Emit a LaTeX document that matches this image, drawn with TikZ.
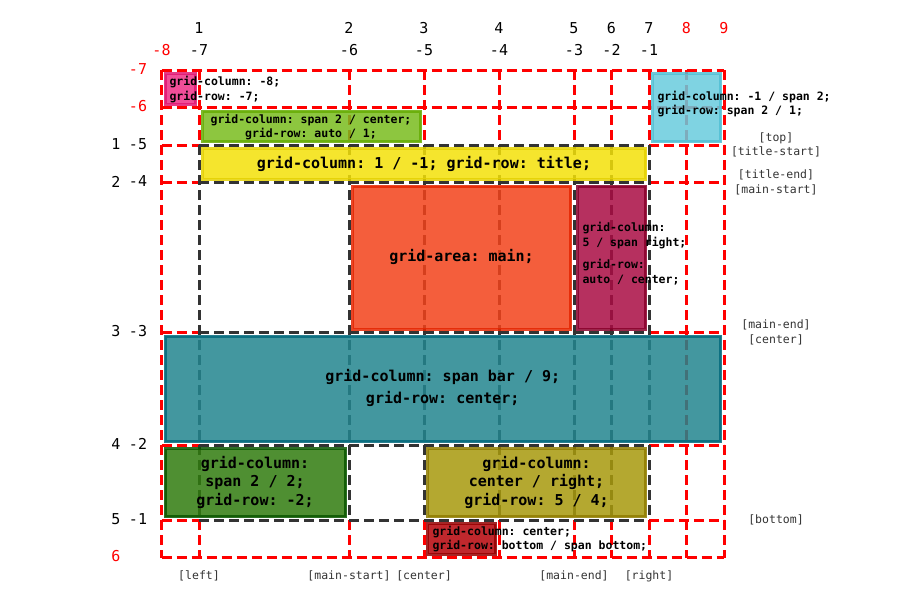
\documentclass[tikz,border=0pt]{standalone}
\usepackage{fontspec}
\setmainfont{DejaVu Sans Mono}
\usetikzlibrary{positioning}
\definecolor{pinkfill}{HTML}{EE2F86}
\definecolor{pinkline}{HTML}{E01773}
\definecolor{limefill}{HTML}{79BC1D}
\definecolor{limeline}{HTML}{66AC04}
\definecolor{cyanfill}{HTML}{68CBDD}
\definecolor{cyanline}{HTML}{52C0D4}
\definecolor{yellowfill}{HTML}{F3E008}
\definecolor{yellowline}{HTML}{E4D100}
\definecolor{mainfill}{HTML}{F2421A}
\definecolor{mainline}{HTML}{E42500}
\definecolor{rightfill}{HTML}{A90C43}
\definecolor{rightline}{HTML}{88002A}
\definecolor{barfill}{HTML}{22858E}
\definecolor{barline}{HTML}{046A7C}
\definecolor{leftfill}{HTML}{307B0E}
\definecolor{leftline}{HTML}{095600}
\definecolor{olivefill}{HTML}{A7990C}
\definecolor{oliveline}{HTML}{8F7C00}
\definecolor{bottomfill}{HTML}{B50208}
\definecolor{bottomline}{HTML}{950000}
\tikzset{
    implicit/.style={draw=red, line width=3pt, dash pattern=on 10pt off 5pt},
    explicit/.style={draw=black!80, line width=3pt, dash pattern=on 10pt off 5pt},
    area/.style={opacity=0.85, line width=3pt},
    big/.style={font=\fontsize{15}{18.5}\selectfont\bfseries, align=center},
    small/.style={font=\fontsize{11.5}{14.5}\selectfont\bfseries},
    num/.style={font=\fontsize{15}{18}\selectfont},
    linename/.style={font=\fontsize{11.5}{14.5}\selectfont, text=black!80}
}

\begin{document}
\frenchspacing
\begin{tikzpicture}[x=1pt, y=-1pt]
    \useasboundingbox (0,0) rectangle (915,598);

    % implicit grid
    \draw[implicit] (161.5,70) -- (161.5,557.5) (686.5,70) -- (686.5,557.5) (724,70) -- (724,557.5);
    \draw[implicit] (161.5,70) -- (724,70) (161.5,107.5) -- (724,107.5) (161.5,557.5) -- (724,557.5);
    \foreach \x in {199,349,424,499,574,611.5,649}
        \draw[implicit] (\x,70) -- (\x,145) (\x,520) -- (\x,557.5);
    \foreach \y in {145,182.5,332.5,445,520}
        \draw[implicit] (161.5,\y) -- (199,\y) (649,\y) -- (724,\y);

    % explicit grid
    \foreach \x in {199,349,424,499,574,611.5,649}
        \draw[explicit] (\x,145) -- (\x,520);
    \foreach \y in {145,182.5,332.5,445,520}
        \draw[explicit] (199,\y) -- (649,\y);

    % grid items
    \draw[area, fill=pinkfill, draw=pinkline] (165,73.5) rectangle (195.5,104);
    \draw[area, fill=limefill, draw=limeline] (202.5,111) rectangle (420.5,141.5);
    \draw[area, fill=cyanfill, draw=cyanline] (652.5,73.5) rectangle (720.5,141.5);
    \draw[area, fill=yellowfill, draw=yellowline] (202.5,148.5) rectangle (645.5,179);
    \draw[area, fill=mainfill, draw=mainline] (352.5,186) rectangle (570.5,329);
    \draw[area, fill=rightfill, draw=rightline] (577.5,186) rectangle (645.5,329);
    \draw[area, fill=barfill, draw=barline] (165,336) rectangle (720.5,441.5);
    \draw[area, fill=leftfill, draw=leftline] (165,448.5) rectangle (345.5,516.5);
    \draw[area, fill=olivefill, draw=oliveline] (427.5,448.5) rectangle (645.5,516.5);
    \draw[area, fill=bottomfill, draw=bottomline] (427.5,523.5) rectangle (495.5,554);

    % item texts
    \node[small, anchor=west, align=left] (negative) at (166,89.5) {grid-column: -8;\\grid-row: -7;};
    \node[small, align=center] (span) at (311,127) {grid-column: span 2 / center;\\grid-row: auto / 1;};
    \node[small, anchor=west, align=left] (corner) at (654,104) {grid-column: -1 / span 2;\\grid-row: span 2 / 1;};
    \node[big] (title) at (424,163.5) {grid-column: 1 / -1; grid-row: title;};
    \node[big] (main) at (461.5,257) {grid-area: main;};
    \node[small, anchor=west, align=left] (sidebar) at (579,253.5) {grid-column:\\5 / span right;\\[8pt]grid-row:\\auto / center;};
    \node[big] (bar) at (442.75,388) {grid-column: span bar / 9;\\[4pt]grid-row: center;};
    \node[big] (footleft) at (255,482) {grid-column:\\span 2 / 2;\\grid-row: -2;};
    \node[big] (footright) at (536.5,482) {grid-column:\\center / right;\\grid-row: 5 / 4;};
    \node[small, anchor=west, align=left] (bottom) at (429,539) {grid-column: center;\\grid-row: bottom / span bottom;};

    % line numbers
    \foreach \x/\n in {199/1,349/2,424/3,499/4,574/5,611.5/6,649/7}
        \node[num] (top\n) at (\x,28) {\n};
    \foreach \x/\n in {686.5/8,724/9}
        \node[num, text=red] (top\n) at (\x,28) {\n};
    \node[num, text=red] (topneg8) at (161.5,50) {-8};
    \foreach \x/\n in {199/7,349/6,424/5,499/4,574/3,611.5/2,649/1}
        \node[num] (topneg\n) at (\x,50) {-\n};
    \foreach \y/\n in {144/1,181.5/2,331.5/3,444/4,519/5}
        \node[num] (left\n) at (116,\y) {\n};
    \node[num, text=red] (left6) at (116,556.5) {6};
    \node[num, text=red] (leftneg7) at (138,69) {-7};
    \node[num, text=red] (leftneg6) at (138,106.5) {-6};
    \foreach \y/\n in {144/5,181.5/4,331.5/3,444/2,519/1}
        \node[num] (leftneg\n) at (138,\y) {-\n};

    % line names
    \node[linename, align=center] (topname) at (776,145) {{[top]}\\{[title-start]}};
    \node[linename, align=center] (titleend) at (776,182.5) {{[title-end]}\\{[main-start]}};
    \node[linename, align=center] (mainend) at (776,332.5) {{[main-end]}\\{[center]}};
    \node[linename] (bottomname) at (776,520) {[bottom]};
    \node[linename] (leftname) at (199,576) {[left]};
    \node[linename] (mainstart) at (349,576) {[main-start]};
    \node[linename] (centername) at (424,576) {[center]};
    \node[linename] (mainendcol) at (574,576) {[main-end]};
    \node[linename] (rightname) at (649,576) {[right]};
\end{tikzpicture}
\end{document}
